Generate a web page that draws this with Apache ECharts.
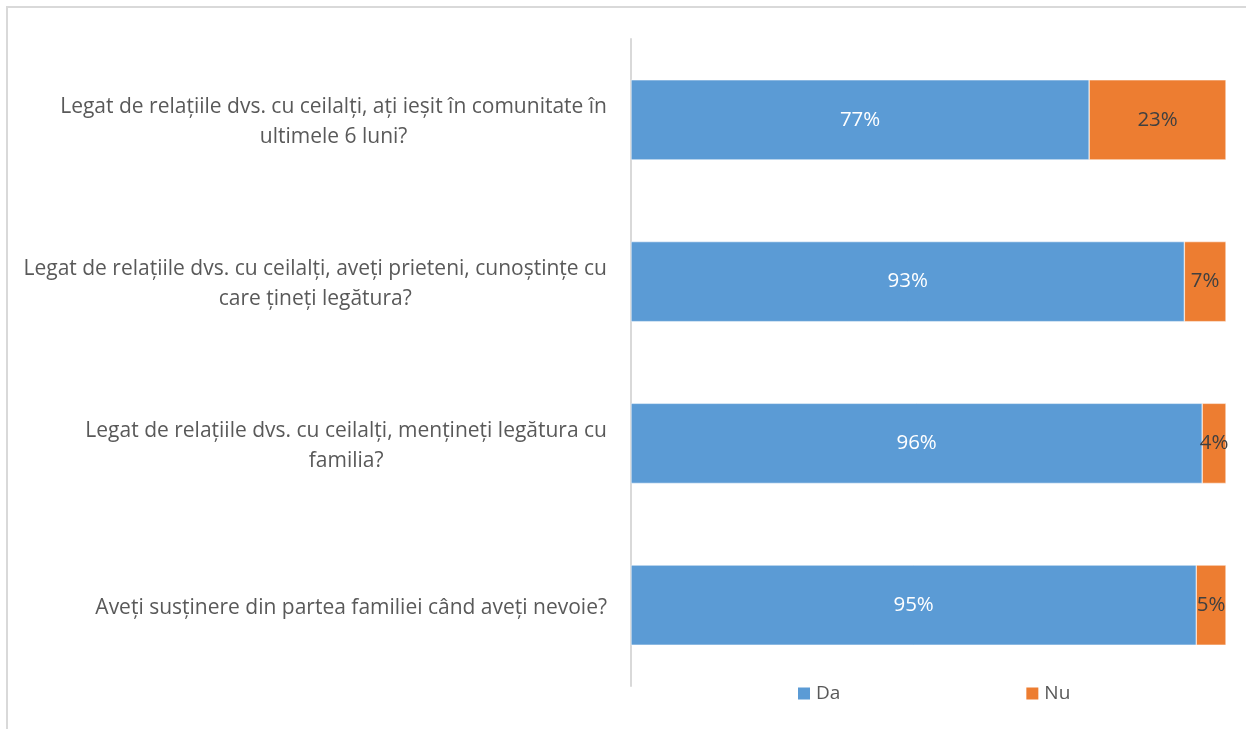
<!DOCTYPE html>
<html><head><meta charset="utf-8">
<script src="https://cdn.jsdelivr.net/npm/echarts@6/dist/echarts.min.js"></script>
<style>html,body{margin:0;padding:0;background:#fff}#c{width:1246px;height:729px}</style>
</head><body><div id="c"></div>
<script>
const categories = [
  "Legat de relațiile dvs. cu ceilalți, ați ieșit în comunitate în\nultimele 6 luni?",
  "Legat de relațiile dvs. cu ceilalți, aveți prieteni, cunoștințe cu\ncare țineți legătura?",
  "Legat de relațiile dvs. cu ceilalți, mențineți legătura cu\nfamilia?",
  "Aveți susținere din partea familiei când aveți nevoie?"
];
const da = [77, 93, 96, 95];
const nu = [23, 7, 4, 5];
const seriesNames = ["Da", "Nu"];

const chart = echarts.init(document.getElementById('c'));
const font = '"Open Sans", sans-serif';
chart.setOption({
  animation: false,
  graphic: [{type:'rect', shape:{x:7, y:7, width:1300, height:800}, style:{fill:'none', stroke:'#d9d9d9', lineWidth:2}, silent:true}],
  grid: {left: 631, right: 20, top: 39, bottom: 43, containLabel: false},
  legend: {
    left: 791, top: 679, itemWidth: 14, itemHeight: 14, itemGap: 184, icon: 'rect',
    textStyle: {fontFamily: font, fontSize: 19, color: '#595959'},
    data: seriesNames
  },
  xAxis: {type: 'value', min: 0, max: 100, show: false},
  yAxis: {
    type: 'category', inverse: true, data: categories,
    axisLine: {show: true, lineStyle: {color: '#d9d9d9', width: 2}},
    axisTick: {show: false},
    axisLabel: {
      margin: 24, align: 'right', padding: [5, 0, 0, 0],
      formatter: v => v.split('\n').map(l => '{c|' + l + '}').join('\n'),
      rich: {c: {align: 'center', fontFamily: font, fontSize: 21, color: '#595959', lineHeight: 30}}
    }
  },
  series: [
    {name: seriesNames[0], type: 'bar', stack: 's', data: da, barWidth: '49.5%',
     itemStyle: {color: '#5b9bd5', borderColor: '#fff', borderWidth: 0.5},
     label: {show: true, position: 'inside', formatter: '{c}%', color: '#fff', fontFamily: font, fontSize: 20.5}},
    {name: seriesNames[1], type: 'bar', stack: 's', data: nu,
     itemStyle: {color: '#ed7d31', borderColor: '#fff', borderWidth: 0.5},
     label: {show: true, position: 'inside', formatter: '{c}%', color: '#404040', fontFamily: font, fontSize: 20.5}}
  ]
});
</script></body></html>
